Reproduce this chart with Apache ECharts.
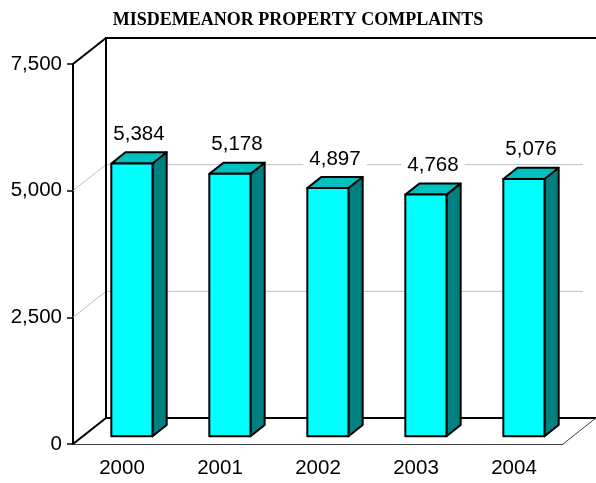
<!DOCTYPE html>
<html>
<head>
<meta charset="utf-8">
<script src="https://cdn.jsdelivr.net/npm/echarts@6/dist/echarts.min.js"></script>
<style>
  html, body { margin: 0; padding: 0; background: #fff; }
  #chart { width: 596px; height: 483px; }
</style>
</head>
<body>
<div id="chart"></div>
<script>
// data
var years = ['2000', '2001', '2002', '2003', '2004'];
var complaints = [5384, 5178, 4897, 4768, 5076];
var yTicks = [0, 2500, 5000, 7500];

// fake 3d look: depth of the box, and where the bars sit inside it
var DX = 33, DY = -26;
var BAR_FRONT = 0.3, BAR_BACK = 0.73, BAR_WIDTH = 0.42;

function commas(v) {
  return String(v).replace(/\B(?=(\d{3})+(?!\d))/g, ',');
}

var chart = echarts.init(document.getElementById('chart'));

//*********** walls, floor and grid lines ***********
function renderWalls(params, api) {
  var r = params.coordSys;
  var x0 = r.x, x1 = r.x + r.width, yTop = r.y, yBot = r.y + r.height;
  var kids = [];
  var thick = { stroke: '#000', lineWidth: 2, fill: 'none' };
  var thin = { stroke: '#404040', lineWidth: 1, fill: 'none' };
  var grid = { stroke: '#c0c0c0', lineWidth: 1, fill: 'none' };

  // grid lines: diagonal on the side wall, then along the back wall
  for (var k = 1; k < yTicks.length - 1; k++) {
    var gy = api.coord([0, yTicks[k]])[1];
    kids.push({ type: 'polyline', shape: { points: [[x0, gy], [x0 + DX, gy + DY], [x1 + DX - 13, gy + DY]] }, style: grid });
  }
  // back wall
  kids.push({ type: 'polyline', shape: { points: [[x1 + DX, yTop + DY], [x0 + DX, yTop + DY], [x0 + DX, yBot + DY], [x1 + DX, yBot + DY]] }, style: thick });
  // side wall edges
  kids.push({ type: 'line', shape: { x1: x0, y1: yTop, x2: x0 + DX, y2: yTop + DY }, style: thick });
  kids.push({ type: 'line', shape: { x1: x0, y1: yBot, x2: x0 + DX, y2: yBot + DY }, style: thick });
  // floor right edge
  kids.push({ type: 'line', shape: { x1: x1, y1: yBot, x2: x1 + DX, y2: yBot + DY }, style: thin });
  return { type: 'group', children: kids };
}

//*********** 3d bars ***********
function renderBar(params, api) {
  var i = api.value(0), v = api.value(1);
  var base = api.coord([i, 0]);
  var top = api.coord([i, v]);
  var half = api.size([1, 0])[0] * BAR_WIDTH / 2;
  var fx = BAR_FRONT * DX, fy = BAR_FRONT * DY;
  var bx = BAR_BACK * DX, by = BAR_BACK * DY;
  var xl = base[0] - half + fx, xr = base[0] + half + fx;
  var yt = top[1] + fy, yb = base[1] + fy;
  var ddx = bx - fx, ddy = by - fy;
  var edge = { stroke: '#000', lineWidth: 2, lineJoin: 'round' };

  return {
    type: 'group',
    children: [
      { type: 'polygon', shape: { points: [[xr, yt], [xr + ddx, yt + ddy], [xr + ddx, yb + ddy], [xr, yb]] },
        style: Object.assign({ fill: '#008080' }, edge) },
      { type: 'polygon', shape: { points: [[xl, yt], [xl + ddx, yt + ddy], [xr + ddx, yt + ddy], [xr, yt]] },
        style: Object.assign({ fill: '#00c0c0' }, edge) },
      { type: 'rect', shape: { x: xl, y: yt, width: xr - xl, height: yb - yt },
        style: Object.assign({ fill: '#00ffff' }, edge) },
      { type: 'text', x: (xl + xr + ddx) / 2, y: yt + ddy - 18,
        style: { text: commas(v), fill: '#000', font: '20.5px "Liberation Sans", Arial, sans-serif',
          align: 'center', verticalAlign: 'middle', backgroundColor: '#fff', padding: [0, 6] } }
    ]
  };
}

var barData = complaints.map(function (v, i) { return [i, v]; });

var option = {
  animation: false,
  backgroundColor: '#fff',
  title: {
    text: 'MISDEMEANOR PROPERTY COMPLAINTS',
    left: 'center',
    top: 6,
    textStyle: { fontFamily: '"Liberation Serif", "Times New Roman", serif', fontWeight: 'bold', fontSize: 18, color: '#000' }
  },
  grid: { left: 73, right: 33, top: 64, bottom: 39 },
  xAxis: {
    type: 'category',
    data: years,
    axisLine: { lineStyle: { color: '#404040', width: 1 } },
    axisTick: { length: 7, lineStyle: { color: '#404040' } },
    axisLabel: { margin: 14, color: '#000', fontSize: 20.5, fontFamily: '"Liberation Sans", Arial, sans-serif' },
    splitLine: { show: false }
  },
  yAxis: {
    type: 'value',
    min: 0,
    max: 7500,
    interval: 2500,
    axisLine: { show: true, lineStyle: { color: '#000', width: 2 } },
    axisTick: { show: true, length: 6, lineStyle: { color: '#000', width: 1.5 } },
    axisLabel: { margin: 11, color: '#000', fontSize: 20.5, fontFamily: '"Liberation Sans", Arial, sans-serif',
      formatter: function (v) { return commas(v); } },
    splitLine: { show: false }
  },
  series: [
    { type: 'custom', renderItem: renderWalls, data: [[0, 0]], silent: true, z: 1, clip: false },
    { type: 'custom', renderItem: renderBar, data: barData, z: 3, clip: false }
  ]
};

chart.setOption(option);
</script>
</body>
</html>
